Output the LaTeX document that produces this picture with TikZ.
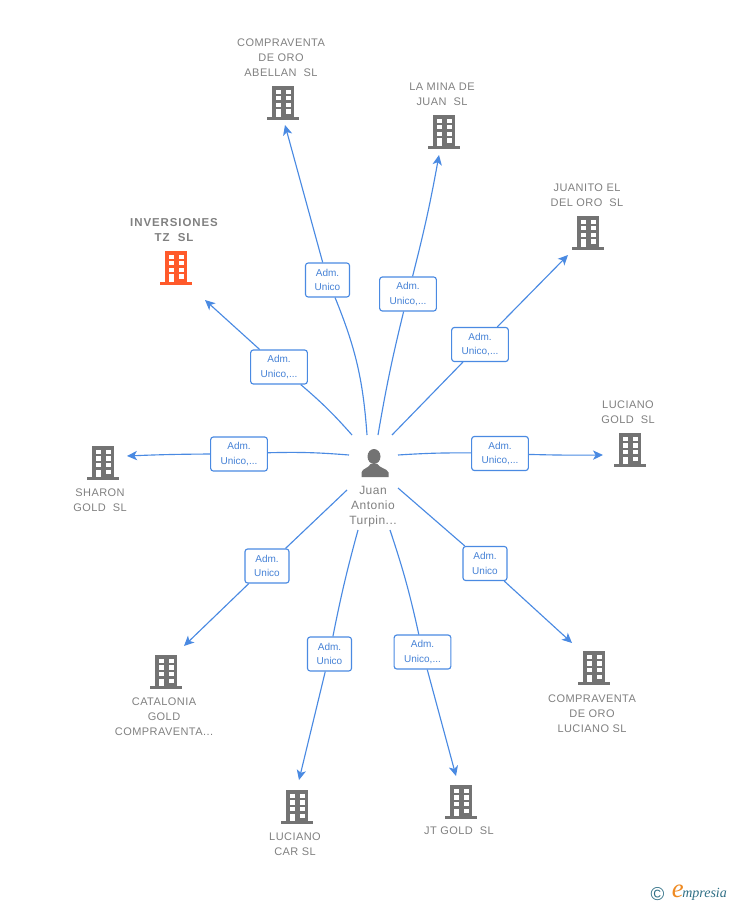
\documentclass[tikz,border=0pt]{standalone}
\usepackage{fontspec}
\setmainfont{Liberation Sans}
\newfontfamily\trackfont[LetterSpace=4]{Liberation Sans}
\newfontfamily\logofont{Liberation Serif}
\usetikzlibrary{arrows.meta}

\definecolor{linkblue}{HTML}{4A8AE2}
\definecolor{textblue}{HTML}{4682D6}
\definecolor{labelgray}{HTML}{808080}
\definecolor{iconorange}{HTML}{FF5A2B}
\definecolor{logoteal}{HTML}{2F6F85}
\definecolor{logoorange}{HTML}{EE8A22}

\newcommand{\bldgshape}[1]{%
  \begin{scope}[shift={(path picture bounding box.center)}]
    \fill[#1] (-11,-17) rectangle (11,15);
    \fill[#1] (-16,14) rectangle (16,17);
    \fill[white] (-7.5,-13) rectangle (-2.5,-9);
    \fill[white] (2.5,-13) rectangle (7.5,-9);
    \fill[white] (-7.5,-7) rectangle (-2.5,-2.5);
    \fill[white] (2.5,-7) rectangle (7.5,-2.5);
    \fill[white] (-7.5,0) rectangle (-2.5,4);
    \fill[white] (2.5,0) rectangle (7.5,4);
    \fill[white] (-7.5,6.5) rectangle (-2.5,14);
    \fill[white] (2.5,6.5) rectangle (7.5,11);
  \end{scope}}

\tikzset{
  building/.style={inner sep=0pt,minimum width=24.75pt,minimum height=25.5pt,
    path picture={\bldgshape{#1}}},
  name_label/.style={align=center,inner sep=0pt,text=labelgray,
    font=\fontsize{8.25}{11.25}\selectfont},
  rel_box/.style={draw=linkblue,fill=white,rounded corners=2pt,line width=.85pt,
    inner sep=0pt,align=center,text=textblue,minimum height=25.5pt,
    font=\fontsize{7.5}{11}\selectfont},
  rel_short/.style={rel_box,minimum width=33pt},
  rel_long/.style={rel_box,minimum width=42.5pt},
  link/.style={draw,color=linkblue,line width=.85pt},
  arrow_link/.style={link,-{Stealth[length=7.5pt,width=7pt,inset=2pt]}}
}

\begin{document}
\begin{tikzpicture}[x=.75pt,y=-.75pt]
  \useasboundingbox (0,0) rectangle (728,905);

  \node[building=black!55] (abellan) at (283,103) {};
  \node[building=black!55] (mina) at (444,132) {};
  \node[building=black!55] (juanito) at (588,233) {};
  \node[building=iconorange] (inversiones) at (176,268) {};
  \node[building=black!55] (lucianogold) at (630,450) {};
  \node[building=black!55] (sharon) at (103,463) {};
  \node[building=black!55] (catalonia) at (166,672) {};
  \node[building=black!55] (lucianocar) at (297,807) {};
  \node[building=black!55] (jtgold) at (461,802) {};
  \node[building=black!55] (lucianocomp) at (594,668) {};

  \node[name_label] (abellan_t) at (281,57.5) {\trackfont COMPRAVENTA\\\trackfont DE ORO\\\trackfont ABELLAN~~SL};
  \node[name_label] (mina_t) at (442,94) {\trackfont LA MINA DE\\\trackfont JUAN~~SL};
  \node[name_label] (juanito_t) at (587,195) {\trackfont JUANITO EL\\\trackfont DEL ORO~~SL};
  \node[name_label,font=\fontsize{8.6}{11.25}\selectfont\bfseries] (inversiones_t) at (174,230)
    {\addfontfeature{LetterSpace=8}INVERSIONES\\\addfontfeature{LetterSpace=8}TZ~~SL};
  \node[name_label] (lucianogold_t) at (628,412.5) {\trackfont LUCIANO\\\trackfont GOLD~~SL};
  \node[name_label] (sharon_t) at (100,500) {\trackfont SHARON\\\trackfont GOLD~~SL};
  \node[name_label] (catalonia_t) at (164,716.5) {\trackfont CATALONIA\\\trackfont GOLD\\\trackfont COMPRAVENTA...};
  \node[name_label] (lucianocar_t) at (295,844) {\trackfont LUCIANO\\\trackfont CAR SL};
  \node[name_label] (jtgold_t) at (459,831) {\trackfont JT GOLD~~SL};
  \node[name_label] (lucianocomp_t) at (592,713.5) {\trackfont COMPRAVENTA\\\trackfont DE ORO\\\trackfont LUCIANO SL};

  % person in the middle
  \node[inner sep=0pt,minimum width=24pt,minimum height=24pt,path picture={
    \begin{scope}[shift={(path picture bounding box.center)}]
      \fill[black!55] (-1,-6.5) ellipse (6.5 and 7.5);
      \fill[black!55] (-13.5,14) -- (-13.5,9.5) .. controls (-13,5.5) and (-6,5) .. (-4.5,1)
        -- (2.5,1) .. controls (4,5) and (12.5,5.5) .. (13.5,9.5) -- (13.5,14) -- cycle;
    \end{scope}}] (hub) at (375,463) {};
  \node[name_label,font=\fontsize{9}{11.25}\selectfont] (hub_t) at (373,506.5)
    {\trackfont Juan\\\trackfont Antonio\\\trackfont Turpin...};

  \node[rel_short] (rel_a) at (327.5,280) {Adm.\\Unico};
  \node[rel_long] (rel_b) at (408,294) {Adm.\\Unico,...};
  \node[rel_long] (rel_c) at (480,344.5) {Adm.\\Unico,...};
  \node[rel_long] (rel_d) at (279,367) {Adm.\\Unico,...};
  \node[rel_long] (rel_e) at (500,453.5) {Adm.\\Unico,...};
  \node[rel_long] (rel_f) at (239,454) {Adm.\\Unico,...};
  \node[rel_short] (rel_g) at (267,566) {Adm.\\Unico};
  \node[rel_short] (rel_h) at (329.5,654) {Adm.\\Unico};
  \node[rel_long] (rel_i) at (422.5,652) {Adm.\\Unico,...};
  \node[rel_short] (rel_j) at (485,563.5) {Adm.\\Unico};

  \coordinate (hub_a) at (367,435);
  \coordinate (hub_b) at (378,435);
  \coordinate (hub_c) at (392,435);
  \coordinate (hub_d) at (352,435);
  \coordinate (hub_e) at (398,455);
  \coordinate (hub_f) at (349,455);
  \coordinate (hub_g) at (347,490);
  \coordinate (hub_h) at (358,530);
  \coordinate (hub_i) at (390,530);
  \coordinate (hub_j) at (398,488);

  \coordinate (end_a) at (285,125);
  \coordinate (end_b) at (439,155);
  \coordinate (end_c) at (568,255);
  \coordinate (end_d) at (205,300);
  \coordinate (end_e) at (603,455);
  \coordinate (end_f) at (127,456);
  \coordinate (end_g) at (184,646);
  \coordinate (end_h) at (299,780);
  \coordinate (end_i) at (456,776);
  \coordinate (end_j) at (572,643);

  \path[link]
  (hub_a) edge[bend right=9] (rel_a)
  (hub_b) edge[bend left=2] (rel_b)
  (hub_c) edge (rel_c)
  (hub_d) edge[bend right=4] (rel_d)
  (hub_e) edge[bend left=2] (rel_e)
  (hub_f) edge[bend right=3] (rel_f)
  (hub_g) edge (rel_g)
  (hub_h) edge[bend right=2] (rel_h)
  (hub_i) edge[bend left=3] (rel_i)
  (hub_j) edge (rel_j)
  ;

  \path[arrow_link]
  (rel_a) edge (end_a)
  (rel_b) edge[bend right=2] (end_b)
  (rel_c) edge (end_c)
  (rel_d) edge (end_d)
  (rel_e) edge[bend right=1] (end_e)
  (rel_f) edge[bend right=1] (end_f)
  (rel_g) edge (end_g)
  (rel_h) edge (end_h)
  (rel_i) edge (end_i)
  (rel_j) edge (end_j)
  ;

  % logo
  \node[inner sep=0pt,text=logoteal,font=\fontsize{14}{14}\selectfont] (logo_c) at (657.5,894) {©};
  \node[inner sep=0pt,anchor=base west,text=logoteal,font=\logofont\itshape\fontsize{10.5}{12}\selectfont] (logo_t) at (682,897.5) {mpresia};
  \node[inner sep=0pt,anchor=base east,xshift=1.5pt,text=logoorange,font=\logofont\itshape\fontsize{20}{20}\selectfont] (logo_e) at (logo_t.base west) {e};
\end{tikzpicture}
\end{document}
